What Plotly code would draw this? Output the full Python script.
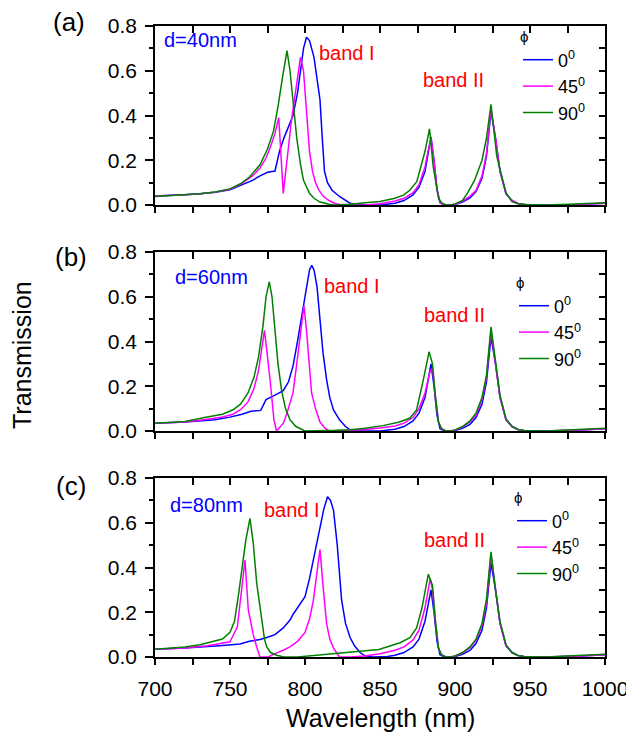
import plotly.graph_objects as go

# ---------------- data ----------------
# Panel (a) d=40nm
a_blue_x = [700, 710, 720, 730, 740, 750, 757, 765, 770, 775, 780, 783, 786, 789, 792, 795, 797, 799, 801, 803, 806, 808, 810, 811.5, 813, 815, 818, 823, 830, 835, 850, 860, 866, 872, 876, 880, 882, 884, 886, 888, 890, 893, 897, 900, 905, 910, 914, 918, 921, 924, 927, 930, 934, 938, 942, 946, 960, 980, 1000]
a_blue_y = [0.04, 0.042, 0.046, 0.05, 0.057, 0.068, 0.088, 0.11, 0.13, 0.146, 0.152, 0.24, 0.3, 0.35, 0.40, 0.5, 0.6, 0.7, 0.75, 0.735, 0.66, 0.57, 0.47, 0.3, 0.15, 0.1, 0.066, 0.038, 0.008, 0.002, 0.0, 0.008, 0.02, 0.045, 0.08, 0.15, 0.22, 0.305, 0.2, 0.07, 0.01, 0.0, 0.0, 0.002, 0.013, 0.032, 0.06, 0.12, 0.22, 0.42, 0.3, 0.15, 0.05, 0.02, 0.007, 0.002, 0.0, 0.002, 0.008]
a_mag_x = [700, 710, 720, 730, 740, 750, 757, 765, 770, 774, 777, 780, 782.5, 785.5, 788.5, 791, 794, 797, 799, 801, 803, 805, 807, 809, 812, 816, 820, 825, 840, 850, 860, 866, 872, 876, 880, 882, 884, 886, 888, 890, 893, 897, 900, 905, 910, 914, 918, 921, 924, 927, 930, 934, 938, 942, 946, 960, 980, 1000]
a_mag_y = [0.04, 0.042, 0.046, 0.05, 0.057, 0.07, 0.092, 0.13, 0.165, 0.21, 0.26, 0.32, 0.39, 0.052, 0.24, 0.38, 0.52, 0.66, 0.6, 0.42, 0.24, 0.15, 0.1, 0.07, 0.04, 0.02, 0.007, 0.0, 0.0, 0.006, 0.018, 0.03, 0.055, 0.09, 0.17, 0.24, 0.3, 0.2, 0.07, 0.01, 0.0, 0.0, 0.003, 0.016, 0.04, 0.065, 0.13, 0.23, 0.43, 0.3, 0.15, 0.05, 0.02, 0.007, 0.002, 0.0, 0.002, 0.008]
a_grn_x = [700, 710, 720, 730, 740, 750, 757, 763, 770, 775, 779, 782, 785, 788, 790, 792, 794.5, 797, 799, 803, 806, 810, 816, 820, 830, 840, 850, 860, 866, 870, 874.5, 878, 880, 883, 885.5, 889, 891, 894, 897, 900, 905, 908, 913, 918, 921, 924, 927.8, 930, 934, 938, 942, 948, 960, 980, 1000]
a_grn_y = [0.038, 0.041, 0.045, 0.05, 0.058, 0.072, 0.095, 0.125, 0.18, 0.25, 0.33, 0.44, 0.57, 0.69, 0.6, 0.47, 0.3, 0.18, 0.11, 0.052, 0.03, 0.013, 0.003, 0.0, 0.003, 0.01, 0.016, 0.03, 0.045, 0.067, 0.104, 0.19, 0.24, 0.34, 0.17, 0.03, 0.01, 0.0, 0.0, 0.005, 0.02, 0.05, 0.11, 0.2, 0.3, 0.45, 0.22, 0.16, 0.055, 0.015, 0.006, 0.002, 0.0, 0.004, 0.01]

# Panel (b) d=60nm
b_blue_x = [700, 720, 740, 750, 758, 764, 770.5, 774, 780, 785.5, 789, 792, 795, 797, 799, 801, 803, 804.5, 806, 808, 810, 812, 814.4, 816.5, 819, 823, 827, 830, 835, 850, 860, 866, 872, 876, 880, 882, 884, 886, 888, 890, 893, 897, 900, 905, 910, 914, 918, 921, 924, 927, 930, 934, 938, 942, 946, 960, 980, 1000]
b_blue_y = [0.035, 0.04, 0.05, 0.062, 0.075, 0.088, 0.092, 0.14, 0.16, 0.18, 0.22, 0.29, 0.4, 0.48, 0.57, 0.65, 0.72, 0.74, 0.72, 0.645, 0.5, 0.35, 0.23, 0.15, 0.094, 0.05, 0.02, 0.005, 0.0, 0.0, 0.008, 0.02, 0.045, 0.08, 0.15, 0.22, 0.3, 0.2, 0.07, 0.01, 0.0, 0.0, 0.002, 0.012, 0.03, 0.06, 0.12, 0.22, 0.42, 0.3, 0.15, 0.05, 0.02, 0.007, 0.002, 0.0, 0.003, 0.01]
b_mag_x = [700, 720, 735, 745, 752, 757, 762, 766, 769, 771, 773, 776.7, 779.3, 781, 785.5, 788, 792, 794.5, 796.7, 799.3, 801, 803, 804.4, 807, 810, 813, 816, 820, 830, 840, 850, 860, 866, 872, 876, 880, 883.5, 885, 887, 889, 891, 894, 897, 900, 905, 910, 914, 918, 921, 924, 927, 930, 934, 938, 942, 946, 960, 980, 1000]
b_mag_y = [0.035, 0.04, 0.053, 0.063, 0.075, 0.095, 0.13, 0.19, 0.27, 0.36, 0.45, 0.23, 0.05, 0.0, 0.034, 0.08, 0.17, 0.3, 0.42, 0.56, 0.45, 0.3, 0.17, 0.1, 0.04, 0.015, 0.0, 0.0, 0.003, 0.007, 0.013, 0.022, 0.035, 0.06, 0.1, 0.17, 0.27, 0.28, 0.15, 0.04, 0.01, 0.0, 0.0, 0.003, 0.017, 0.04, 0.07, 0.14, 0.24, 0.45, 0.3, 0.15, 0.05, 0.02, 0.007, 0.002, 0.0, 0.003, 0.01]
b_grn_x = [700, 720, 733, 745, 752, 757, 762, 766, 769, 772, 774, 776.2, 778, 780, 782, 784.4, 787, 790, 794, 800, 810, 820, 830, 840, 852, 863, 870, 874.4, 878.9, 882.7, 885, 887, 889, 891, 894, 897, 900, 905, 910, 914, 918, 921, 924, 927, 930, 934, 938, 942, 946, 960, 980, 1000]
b_grn_y = [0.035, 0.042, 0.06, 0.075, 0.095, 0.12, 0.17, 0.24, 0.33, 0.47, 0.6, 0.667, 0.6, 0.45, 0.3, 0.18, 0.1, 0.05, 0.02, 0.0, 0.0, 0.003, 0.006, 0.012, 0.024, 0.04, 0.058, 0.094, 0.23, 0.354, 0.3, 0.15, 0.04, 0.01, 0.0, 0.0, 0.005, 0.02, 0.045, 0.08, 0.15, 0.25, 0.465, 0.3, 0.16, 0.055, 0.02, 0.007, 0.002, 0.0, 0.005, 0.012]

# Panel (c) d=80nm
c_blue_x = [700, 720, 743, 750, 756.7, 763, 770, 775, 780, 785.5, 790, 792, 796, 800, 803, 806, 808, 810, 812.5, 815, 817, 819, 821.5, 824.4, 827, 830, 833, 836.7, 840, 845, 855, 860, 866, 872, 876, 880, 882, 884, 886, 888, 890, 893, 897, 900, 905, 910, 914, 918, 921, 924, 927, 930, 934, 938, 942, 946, 960, 980, 1000]
c_blue_y = [0.035, 0.04, 0.05, 0.054, 0.058, 0.07, 0.078, 0.088, 0.1, 0.13, 0.165, 0.19, 0.23, 0.27, 0.35, 0.45, 0.52, 0.58, 0.66, 0.716, 0.7, 0.656, 0.5, 0.255, 0.15, 0.088, 0.05, 0.02, 0.005, 0.0, 0.002, 0.008, 0.02, 0.045, 0.08, 0.16, 0.23, 0.3, 0.2, 0.07, 0.01, 0.0, 0.0, 0.002, 0.012, 0.03, 0.06, 0.12, 0.22, 0.42, 0.3, 0.15, 0.05, 0.02, 0.007, 0.002, 0.0, 0.003, 0.01]
c_mag_x = [700, 720, 735, 745, 750, 754.9, 757.8, 760, 762.2, 765.5, 768, 770, 775.6, 780, 785.5, 790, 795, 800, 803, 805.5, 808, 810, 812, 814.4, 816.5, 819, 823, 830, 840, 850, 860, 866, 872, 876, 880, 883.5, 885, 887, 889, 891, 894, 897, 900, 905, 910, 914, 918, 921, 924, 927, 930, 934, 938, 942, 946, 960, 980, 1000]
c_mag_y = [0.035, 0.04, 0.05, 0.06, 0.068, 0.135, 0.3, 0.433, 0.21, 0.1, 0.04, 0.0, 0.0, 0.015, 0.03, 0.045, 0.07, 0.11, 0.17, 0.25, 0.38, 0.48, 0.32, 0.15, 0.08, 0.04, 0.0, 0.0, 0.005, 0.015, 0.03, 0.045, 0.075, 0.12, 0.22, 0.35, 0.3, 0.15, 0.04, 0.01, 0.0, 0.0, 0.004, 0.018, 0.042, 0.075, 0.14, 0.24, 0.46, 0.3, 0.15, 0.05, 0.02, 0.007, 0.002, 0.0, 0.003, 0.01]
c_grn_x = [700, 720, 730, 740, 745, 750, 753, 755.5, 758, 760.5, 763.3, 765.5, 767.8, 769.5, 771, 773, 774.4, 777, 781, 786, 795, 800, 810, 820, 830, 840, 849.3, 863.3, 870, 874.4, 878, 882.2, 885, 887, 889, 891, 894, 897, 900, 905, 910, 914, 918, 921, 924, 927, 930, 934, 938, 942, 946, 960, 980, 1000]
c_grn_y = [0.035, 0.045, 0.055, 0.07, 0.08, 0.11, 0.16, 0.27, 0.4, 0.52, 0.62, 0.51, 0.33, 0.24, 0.165, 0.08, 0.046, 0.02, 0.008, 0.0, 0.0, 0.003, 0.01, 0.015, 0.02, 0.026, 0.034, 0.064, 0.086, 0.13, 0.22, 0.37, 0.32, 0.16, 0.04, 0.01, 0.0, 0.0, 0.005, 0.02, 0.045, 0.08, 0.15, 0.26, 0.47, 0.3, 0.16, 0.055, 0.02, 0.007, 0.002, 0.0, 0.005, 0.012]

series_names = ["0<sup>0</sup>", "45<sup>0</sup>", "90<sup>0</sup>"]
series_colors = ["#0000FF", "#FF00FF", "#008000"]
panel_labels = ["(a)", "(b)", "(c)"]
d_labels = ["d=40nm", "d=60nm", "d=80nm"]
x_ticks = [700, 750, 800, 850, 900, 950, 1000]
y_ticks = [0.0, 0.2, 0.4, 0.6, 0.8]

panels = [
    [(a_blue_x, a_blue_y), (a_mag_x, a_mag_y), (a_grn_x, a_grn_y)],
    [(b_blue_x, b_blue_y), (b_mag_x, b_mag_y), (b_grn_x, b_grn_y)],
    [(c_blue_x, c_blue_y), (c_mag_x, c_mag_y), (c_grn_x, c_grn_y)],
]

# ---------------- layout geometry ----------------
W, H = 626, 738
FONT = "Liberation Sans, Arial, sans-serif"
px_left, px_right = 155, 605
panel_px = [(26, 205), (252, 431), (478, 657)]  # top, bottom
d_pos = [(704.7, 0.737), (712, 0.69), (708.9, 0.68)]
bandI_pos = [(808, 0.679), (811, 0.65), (771, 0.657)]
bandII_pos = [(877.3, 0.559), (877.8, 0.518), (877.8, 0.523)]
legend_px = [(518, 22), (514, 268), (512, 483)]
plabel_px = [(69, 22), (71, 257), (71, 486)]


def px2px(xp):
    return xp / W


def py2py(yp):
    return 1 - yp / H


fig = go.Figure()
layout = dict(
    width=W, height=H, autosize=False,
    margin=dict(l=0, r=0, t=0, b=0, pad=0, autoexpand=False),
    paper_bgcolor="white", plot_bgcolor="white",
    font=dict(family=FONT, color="black", size=20),
    showlegend=True,
)
annotations = []
xdom = [px2px(px_left), px2px(px_right)]
for i in range(3):
    n = i + 1
    top, bot = panel_px[i]
    ydom = [py2py(bot), py2py(top)]
    legname = "legend" if i == 0 else f"legend{n}"
    for (xs, ys), nm, col in zip(panels[i], series_names, series_colors):
        fig.add_trace(go.Scatter(x=xs, y=ys, mode="lines", name=nm,
                                 line=dict(color=col, width=1.5),
                                 xaxis=f"x{n}", yaxis=f"y{n}", legend=legname))
    # dummy trace for the mirrored (top/right) axes
    fig.add_trace(go.Scatter(x=[], y=[], xaxis=f"x{n+3}", yaxis=f"y{n+3}",
                             showlegend=False, hoverinfo="skip"))
    layout[f"xaxis{n}"] = dict(
        domain=xdom, anchor=f"y{n}", range=[700, 1000], automargin=False,
        showline=True, linecolor="black", linewidth=1.5,
        ticks="outside", ticklen=6, tickwidth=1.5, tickcolor="black",
        tickvals=x_ticks, showticklabels=(i == 2), ticklabelstandoff=6,
        ticklabeloverflow="allow",
        minor=dict(dtick=25, ticks="outside", ticklen=6, tickwidth=1.5, tickcolor="black"),
        showgrid=False, zeroline=False, tickfont=dict(size=21),
    )
    layout[f"yaxis{n}"] = dict(
        domain=ydom, anchor=f"x{n}", range=[0, 0.8], automargin=False,
        showline=True, linecolor="black", linewidth=1.5,
        ticks="outside", ticklen=8, tickwidth=1.5, tickcolor="black",
        tickvals=y_ticks, tickformat=".1f", ticklabelstandoff=4,
        minor=dict(dtick=0.1, ticks="outside", ticklen=4, tickwidth=1.5, tickcolor="black"),
        showgrid=False, zeroline=False, tickfont=dict(size=21),
    )
    layout[f"xaxis{n+3}"] = dict(
        overlaying=f"x{n}", anchor=f"y{n}", side="top", range=[700, 1000], automargin=False,
        showline=True, linecolor="black", linewidth=1.5,
        ticks="inside", ticklen=7, tickwidth=1.5, tickcolor="black",
        dtick=25, tick0=700, showticklabels=False, showgrid=False, zeroline=False,
    )
    layout[f"yaxis{n+3}"] = dict(
        overlaying=f"y{n}", anchor=f"x{n}", side="right", range=[0, 0.8], automargin=False,
        showline=True, linecolor="black", linewidth=1.5,
        ticks="inside", ticklen=6, tickwidth=1.5, tickcolor="black",
        dtick=0.1, tick0=0, showticklabels=False, showgrid=False, zeroline=False,
    )
    lx, ly = legend_px[i]
    layout[legname] = dict(
        x=px2px(lx), y=py2py(ly), xanchor="left", yanchor="top",
        bgcolor="rgba(0,0,0,0)", borderwidth=0,
        font=dict(size=18, family=FONT), tracegroupgap=0,
        title=dict(text="ϕ", font=dict(size=15, family=FONT), side="top"),
        itemwidth=30,
    )
    annotations.append(dict(x=d_pos[i][0], y=d_pos[i][1], xref=f"x{n}", yref=f"y{n}",
                            text=d_labels[i], showarrow=False, xanchor="left", yanchor="middle",
                            font=dict(size=20, color="#0000FF")))
    annotations.append(dict(x=bandI_pos[i][0], y=bandI_pos[i][1], xref=f"x{n}", yref=f"y{n}",
                            text="band I", showarrow=False, xanchor="left", yanchor="middle",
                            font=dict(size=20, color="#FF0000")))
    annotations.append(dict(x=bandII_pos[i][0], y=bandII_pos[i][1], xref=f"x{n}", yref=f"y{n}",
                            text="band II", showarrow=False, xanchor="left", yanchor="middle",
                            font=dict(size=20, color="#FF0000")))
    annotations.append(dict(x=px2px(plabel_px[i][0]), y=py2py(plabel_px[i][1]), xref="paper", yref="paper",
                            text=panel_labels[i], showarrow=False, xanchor="center", yanchor="middle",
                            font=dict(size=26)))

annotations.append(dict(x=px2px(22), y=py2py(355), xref="paper", yref="paper", text="Transmission",
                        textangle=-90, showarrow=False, xanchor="center", yanchor="middle",
                        font=dict(size=25)))
annotations.append(dict(x=px2px(380), y=py2py(718), xref="paper", yref="paper", text="Wavelength (nm)",
                        showarrow=False, xanchor="center", yanchor="middle", font=dict(size=25)))
layout["annotations"] = annotations
fig.update_layout(**layout)
fig.write_html("out.html")
